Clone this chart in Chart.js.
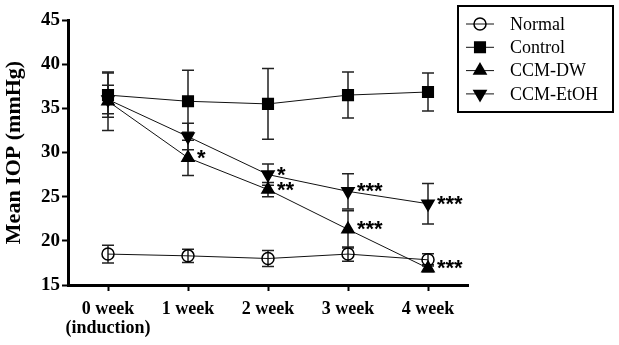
<!DOCTYPE html>
<html>
<head>
<meta charset="utf-8">
<script src="https://cdn.jsdelivr.net/npm/chart.js@4"></script>
<style>
  html, body { margin: 0; padding: 0; background: #fff; }
  #wrap { width: 619px; height: 345px; }
</style>
</head>
<body>
<div id="wrap"><canvas id="iopChart" width="619" height="345"></canvas></div>
<script>
// --- data ---
const weeks = [['0 week', '(induction)'], '1 week', '2 week', '3 week', '4 week'];
const yTicks = [15, 20, 25, 30, 35, 40, 45];

const normalMean  = [18.5, 18.3, 18.0, 18.5, 17.85];
const normalErr   = [1.0, 0.75, 0.9, 0.8, 0.7];
const controlMean = [36.5, 35.8, 35.5, 36.5, 36.85];
const controlErr  = [2.5, 3.5, 4.0, 2.6, 2.15];
const dwMean      = [35.8, 29.4, 25.8, 21.3, 16.9];
const dwErr       = [3.3, 2.0, 0.8, 2.1, 0.4];
const etohMean    = [36.0, 31.8, 27.5, 25.6, 24.2];
const etohErr     = [1.6, 1.5, 1.2, 2.0, 2.3];

// significance marks next to each point
const dwStars   = ['', '*', '**', '***', '***'];
const etohStars = ['', '', '*', '***', '***'];

const serif = '"Liberation Serif", "Times New Roman", serif';

function series(label, data, err, stars, style, radius, rotation, fill) {
    return {
        label: label,
        data: data,
        err: err,
        stars: stars,
        borderColor: '#111',
        borderWidth: 1,
        pointStyle: style,
        pointRadius: radius,
        pointHoverRadius: radius,
        pointRotation: rotation,
        pointBackgroundColor: fill,
        pointBorderColor: '#000',
        pointBorderWidth: 1.5,
        tension: 0,
        clip: false
    };
}

// error bars under the markers, stars on top
const errorBars = {
    id: 'errorBars',
    beforeDatasetsDraw(chart) {
        const ctx = chart.ctx;
        const y = chart.scales.y;
        ctx.save();
        ctx.strokeStyle = '#222';
        ctx.lineWidth = 1.5;
        chart.data.datasets.forEach((ds, i) => {
            const meta = chart.getDatasetMeta(i);
            meta.data.forEach((pt, j) => {
                const top = y.getPixelForValue(ds.data[j] + ds.err[j]);
                const bot = y.getPixelForValue(ds.data[j] - ds.err[j]);
                ctx.beginPath();
                ctx.moveTo(pt.x, top); ctx.lineTo(pt.x, bot);
                ctx.moveTo(pt.x - 6, top); ctx.lineTo(pt.x + 6, top);
                ctx.moveTo(pt.x - 6, bot); ctx.lineTo(pt.x + 6, bot);
                ctx.stroke();
            });
        });
        ctx.restore();
    },
    afterDatasetsDraw(chart) {
        const ctx = chart.ctx;
        ctx.save();
        ctx.fillStyle = '#000';
        ctx.font = 'bold 22px "Liberation Sans", Arial, sans-serif';
        ctx.textBaseline = 'alphabetic';
        ctx.textAlign = 'left';
        chart.data.datasets.forEach((ds, i) => {
            if (!ds.stars) return;
            const meta = chart.getDatasetMeta(i);
            meta.data.forEach((pt, j) => {
                if (ds.stars[j]) ctx.fillText(ds.stars[j], pt.x + 9, pt.y + 7);
            });
        });
        ctx.restore();
    }
};

// boxed legend in the top right corner
const boxLegend = {
    id: 'boxLegend',
    afterDraw(chart) {
        const ctx = chart.ctx;
        ctx.save();
        ctx.strokeStyle = '#000';
        ctx.lineWidth = 2;
        ctx.strokeRect(458, 6, 155, 106);
        ctx.font = '18px ' + serif;
        ctx.textBaseline = 'middle';
        chart.data.datasets.forEach((ds, i) => {
            const yy = 24 + i * 23.3;
            ctx.beginPath();
            ctx.lineWidth = 1;
            ctx.strokeStyle = '#111';
            ctx.moveTo(466, yy); ctx.lineTo(494, yy);
            ctx.stroke();
            ctx.lineWidth = 1.5;
            ctx.strokeStyle = '#000';
            ctx.fillStyle = ds.pointBackgroundColor;
            Chart.helpers.drawPoint(ctx, {
                pointStyle: ds.pointStyle,
                radius: ds.pointRadius,
                rotation: ds.pointRotation,
                borderWidth: 1.5
            }, 480, yy);
            ctx.fillStyle = '#000';
            ctx.fillText(ds.label, 510, yy + 1);
        });
        ctx.restore();
    }
};

document.addEventListener('DOMContentLoaded', function() {
    const ctx = document.getElementById('iopChart').getContext('2d');

    new Chart(ctx, {
        type: 'line',
        data: {
            labels: weeks,
            datasets: [
                series('Normal', normalMean, normalErr, null, 'circle', 6, 0, 'rgba(0,0,0,0)'),
                series('Control', controlMean, controlErr, null, 'rect', 7.5, 0, '#000'),
                series('CCM-DW', dwMean, dwErr, dwStars, 'triangle', 7, 0, '#000'),
                series('CCM-EtOH', etohMean, etohErr, etohStars, 'triangle', 7, 180, '#000')
            ]
        },
        options: {
            responsive: false,
            animation: false,
            devicePixelRatio: 1,
            layout: { padding: { top: 20, right: 151, left: 0, bottom: 0 } },
            plugins: {
                legend: { display: false },
                tooltip: { enabled: false }
            },
            scales: {
                x: {
                    type: 'category',
                    offset: true,
                    grid: {
                        offset: false,
                        drawOnChartArea: false,
                        drawTicks: true,
                        tickLength: 6,
                        tickWidth: 2,
                        color: '#000'
                    },
                    border: { display: true, color: '#000', width: 3 },
                    ticks: {
                        color: '#000',
                        padding: 8,
                        maxRotation: 0,
                        autoSkip: false,
                        font: { family: serif, size: 18, weight: 'bold', lineHeight: 1.1 }
                    },
                    afterFit(scale) { scale.height = 60; }
                },
                y: {
                    min: 15,
                    max: 45,
                    afterBuildTicks(scale) {
                        scale.ticks = yTicks.map(v => ({ value: v }));
                    },
                    grid: {
                        drawOnChartArea: false,
                        drawTicks: true,
                        tickLength: 6,
                        tickWidth: 2,
                        color: '#000'
                    },
                    border: { display: true, color: '#000', width: 3 },
                    ticks: {
                        color: '#000',
                        padding: 2,
                        font: { family: serif, size: 19, weight: 'bold' }
                    },
                    title: {
                        display: true,
                        text: 'Mean IOP (mmHg)',
                        color: '#000',
                        padding: { top: 1, bottom: 0 },
                        font: { family: serif, size: 22, weight: 'bold' }
                    },
                    afterFit(scale) { scale.width = 68; }
                }
            }
        },
        plugins: [errorBars, boxLegend]
    });
});
</script>
</body>
</html>
